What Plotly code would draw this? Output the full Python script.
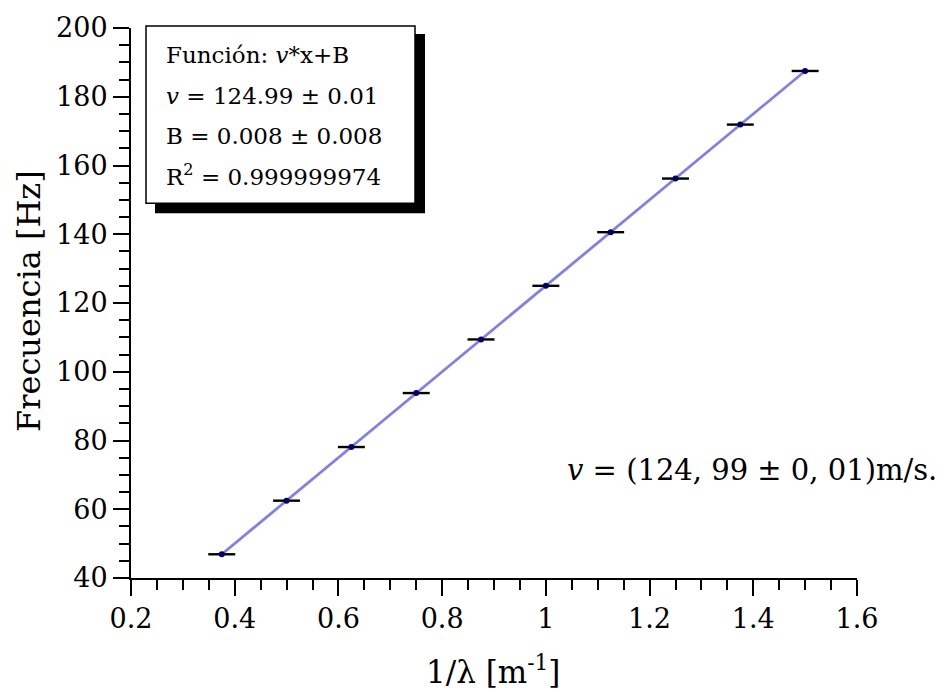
import plotly.graph_objects as go

# Data
inv_lambda = [0.375, 0.5, 0.625, 0.75, 0.875, 1.0, 1.125, 1.25, 1.375, 1.5]
frecuencia = [46.9, 62.5, 78.1, 93.8, 109.4, 125.0, 140.6, 156.2, 171.9, 187.5]
x_err = [0.026, 0.026, 0.026, 0.026, 0.026, 0.026, 0.026, 0.026, 0.026, 0.026]

x_ticks = [0.2, 0.4, 0.6, 0.8, 1.0, 1.2, 1.4, 1.6]
x_tick_labels = ["0.2", "0.4", "0.6", "0.8", "1", "1.2", "1.4", "1.6"]
y_ticks = [40, 60, 80, 100, 120, 140, 160, 180, 200]

box_lines = [
    "Función: <i>v</i>*x+B",
    "<i>v</i> = 124.99 ± 0.01",
    "B = 0.008 ± 0.008",
    "R<sup>2</sup> = 0.999999974",
]

FONT = "DejaVu Serif"
W, H = 949, 692
L, R, T, B = 131, 92, 26, 114
pw, ph = W - L - R, H - T - B


def px(xp):
    return (xp - L) / pw


def py(yp):
    return (H - B - yp) / ph


fig = go.Figure()

# fit line
fig.add_trace(go.Scatter(
    x=inv_lambda, y=frecuencia, mode="lines",
    line=dict(color="rgb(130,130,222)", width=2.8),
    hoverinfo="skip", showlegend=False,
))
# points with horizontal error bars
fig.add_trace(go.Scatter(
    x=inv_lambda, y=frecuencia, mode="markers",
    marker=dict(color="#000060", size=6),
    error_x=dict(type="data", array=x_err, color="black", thickness=2.4, width=0),
    showlegend=False,
))

shapes = [
    # shadow
    dict(type="rect", xref="paper", yref="paper",
         x0=px(155), x1=px(425), y0=py(212), y1=py(32),
         fillcolor="black", line=dict(width=0), layer="above"),
    # box
    dict(type="rect", xref="paper", yref="paper",
         x0=px(146), x1=px(415), y0=py(202), y1=py(24),
         fillcolor="white", line=dict(color="black", width=1.5), layer="above"),
]

annotations = []
line_y = [53, 94, 134, 174]
for txt, yy in zip(box_lines, line_y):
    annotations.append(dict(
        text=txt, xref="paper", yref="paper", x=px(164), y=py(yy),
        xanchor="left", yanchor="middle", showarrow=False,
        font=dict(family=FONT, size=23, color="black"),
    ))

annotations.append(dict(
    text="<i>v</i> = (124, 99 ± 0, 01)m/s.", xref="paper", yref="paper",
    x=px(752), y=py(470), xanchor="center", yanchor="middle", showarrow=False,
    font=dict(family=FONT, size=29, color="black"),
))
# axis titles
annotations.append(dict(
    text="Frecuencia [Hz]", xref="paper", yref="paper",
    x=px(29), y=py(300), xanchor="center", yanchor="middle", textangle=-90,
    showarrow=False, font=dict(family=FONT, size=32, color="black"),
))
annotations.append(dict(
    text="1/λ [m<sup>-1</sup>]", xref="paper", yref="paper",
    x=px(493), y=py(670), xanchor="center", yanchor="middle",
    showarrow=False, font=dict(family=FONT, size=31, color="black"),
))

fig.update_layout(
    width=W, height=H,
    margin=dict(l=L, r=R, t=T, b=B),
    paper_bgcolor="white", plot_bgcolor="white",
    font=dict(family=FONT, size=27, color="black"),
    shapes=shapes, annotations=annotations,
    xaxis=dict(
        range=[0.2, 1.6], tickvals=x_ticks, ticktext=x_tick_labels,
        showgrid=False, zeroline=False, showline=True, linecolor="black",
        linewidth=2, ticks="outside", ticklen=16, tickwidth=2, tickcolor="black",
        minor=dict(dtick=0.05, tick0=0.2, ticks="outside", ticklen=10,
                   tickwidth=2, tickcolor="black", showgrid=False),
        tickfont=dict(family=FONT, size=27),
    ),
    yaxis=dict(
        range=[40, 200], tickvals=y_ticks,
        showgrid=False, zeroline=False, showline=True, linecolor="black",
        linewidth=2, ticks="outside", ticklen=16, tickwidth=2, tickcolor="black",
        minor=dict(dtick=5, tick0=40, ticks="outside", ticklen=10,
                   tickwidth=2, tickcolor="black", showgrid=False),
        tickfont=dict(family=FONT, size=27),
    ),
)

fig.write_html("out.html")
